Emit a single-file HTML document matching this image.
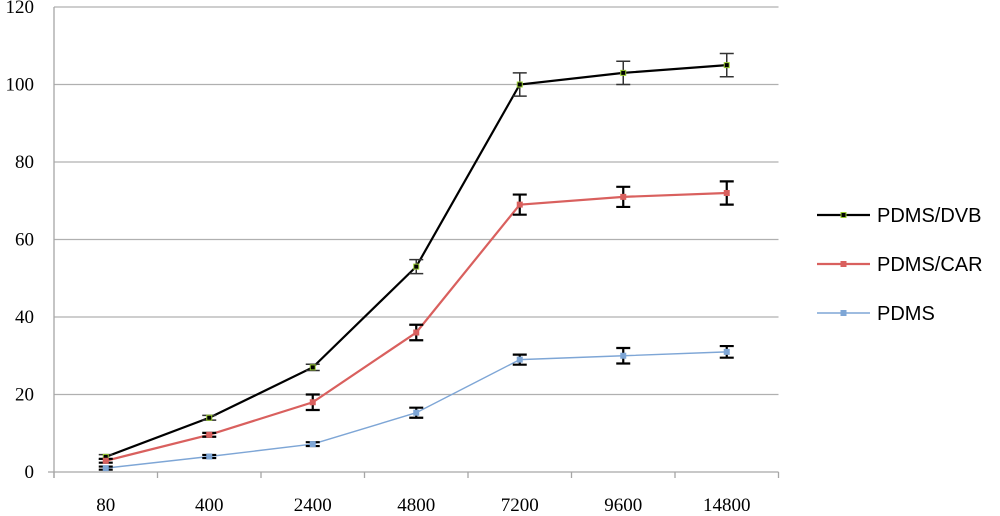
<!DOCTYPE html>
<html><head><meta charset="utf-8"><style>
html,body{margin:0;padding:0;background:#fff;}
svg{display:block;font-family:"Liberation Serif",serif;}
</style></head><body>
<svg id="chart" width="1000" height="516" viewBox="0 0 1000 516" xmlns="http://www.w3.org/2000/svg">
<g id="grid"></g>
<g id="axes"></g>
<g id="series"></g>
<g id="legend"></g>
</svg>
<script>
const categories = ["80","400","2400","4800","7200","9600","14800"];
const yTicks = [0,20,40,60,80,100,120];
const seriesNames = ["PDMS/DVB","PDMS/CAR","PDMS"];
const dvbValues = [3.9,14,27,53,100,103,105];
const dvbErrors = [0.6,0.6,0.8,1.8,3,3,3];
const carValues = [2.9,9.6,18,36,69,71,72];
const carErrors = [0.5,0.5,2,2,2.6,2.6,3];
const pdmsValues = [1,4,7.2,15.3,29,30,31];
const pdmsErrors = [0.4,0.4,0.5,1.3,1.3,2,1.5];

const NS="http://www.w3.org/2000/svg";
const X0=54, BAND=103.5, Y0=472, YTOP=7, YMAX=120;
const xPos=i=>X0+BAND/2+BAND*i;
const yPos=v=>Y0-(v/YMAX)*(Y0-YTOP);
function mk(tag,attrs,parent){const e=document.createElementNS(NS,tag);for(const k in attrs)e.setAttribute(k,attrs[k]);parent.appendChild(e);return e;}

const grid=document.getElementById('grid'), axes=document.getElementById('axes'), ser=document.getElementById('series'), leg=document.getElementById('legend');
yTicks.forEach(t=>{
  const y=yPos(t);
  if(t>0){const l=mk('line',{x1:X0,x2:X0+BAND*7,y1:y,y2:y,stroke:'#b0b0b0','stroke-width':1.3},grid);
  
  }
  const tx=mk('text',{x:34,y:y+6,'text-anchor':'end','font-size':19,fill:'#000'},axes);
  tx.textContent=t;
  
  
});
const ya=mk('line',{x1:X0,x2:X0,y1:YTOP,y2:Y0+6,stroke:'#a6a6a6','stroke-width':1.3},axes);


const xa=mk('line',{x1:X0-6,x2:X0+BAND*7,y1:Y0,y2:Y0,stroke:'#a6a6a6','stroke-width':1.3},axes);


for(let i=0;i<=categories.length;i++){
  const tk=mk('line',{x1:X0+BAND*i,x2:X0+BAND*i,y1:Y0,y2:Y0+6,stroke:'#a6a6a6','stroke-width':1.3},axes);
  
  
}
categories.forEach((c,i)=>{
  const tx=mk('text',{x:xPos(i),y:Y0+39,'text-anchor':'middle','font-size':19,fill:'#000'},axes);
  tx.textContent=c;
  
  
});

const defs=[
 {name:seriesNames[0],vals:dvbValues,errs:dvbErrors,color:'#000000',w:2.2,mk:'#9acd32',eb:'#333',ebw:1.5},
 {name:seriesNames[1],vals:carValues,errs:carErrors,color:'#d9605e',w:2.2,mk:'#d9605e',eb:'#000',ebw:2.2},
 {name:seriesNames[2],vals:pdmsValues,errs:pdmsErrors,color:'#7ea6d6',w:1.4,mk:'#7ea6d6',eb:'#000',ebw:2.2}
];
defs.forEach((s,si)=>{
  const g=mk('g',{},ser);
  
  
  const pts=s.vals.map((v,i)=>xPos(i)+','+yPos(v)).join(' ');
  const pl=mk('polyline',{points:pts,fill:'none',stroke:s.color,'stroke-width':s.w},g);
  
  
  s.vals.forEach((v,i)=>{
    const x=xPos(i), yt=yPos(v+s.errs[i]), yb=yPos(v-s.errs[i]);
    const eb=mk('path',{d:`M${x},${yt}V${yb}M${x-7},${yt}H${x+7}M${x-7},${yb}H${x+7}`,stroke:s.eb,'stroke-width':s.ebw,fill:'none'},g);
    
    
    const p=mk('rect',{x:x-2.5,y:yPos(v)-2.5,width:5,height:5,fill:s.color,stroke:s.mk,'stroke-width':1},g);
    
    
  });
  const ly=215+49*si;
  const ll=mk('line',{x1:817,x2:870,y1:ly,y2:ly,stroke:s.color,'stroke-width':s.w},leg);
  
  
  mk('rect',{x:841,y:ly-2.5,width:5,height:5,fill:s.color,stroke:s.mk},leg);
  const lt=mk('text',{x:877,y:ly+7,'font-size':20,fill:'#000','font-family':'Liberation Sans, sans-serif'},leg);
  lt.textContent=s.name;
  
  
});
</script>
</body></html>
